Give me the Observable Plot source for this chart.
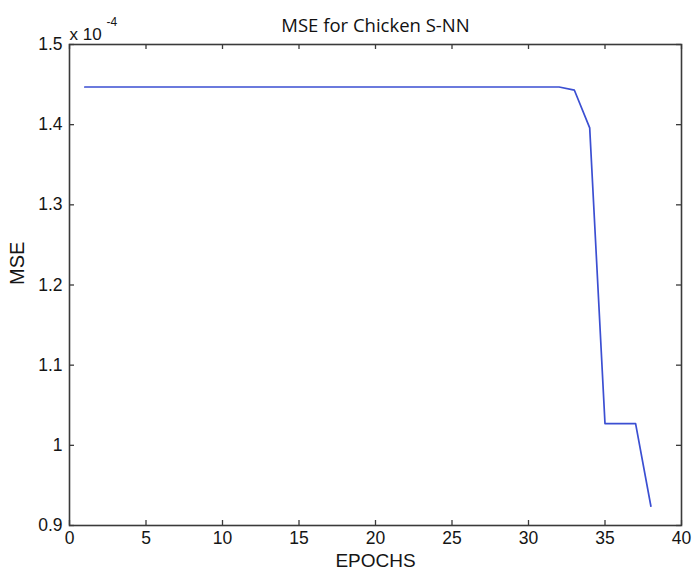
<!DOCTYPE html>
<html><head><meta charset="utf-8">
<script src="https://cdn.jsdelivr.net/npm/d3@7"></script>
<script src="https://cdn.jsdelivr.net/npm/@observablehq/plot@0.6"></script>
<style>body{margin:0;background:#fff;} svg{display:block;}</style>
</head><body><div id="chart"></div>
<script>
const epochs = [1,2,3,4,5,6,7,8,9,10,11,12,13,14,15,16,17,18,19,20,21,22,23,24,25,26,27,28,29,30,31,32,33,34,35,36,37,38];
const mse = [1.447,1.447,1.447,1.447,1.447,1.447,1.447,1.447,1.447,1.447,1.447,1.447,1.447,1.447,1.447,1.447,1.447,1.447,1.447,1.447,1.447,1.447,1.447,1.447,1.447,1.447,1.447,1.447,1.447,1.447,1.447,1.447,1.443,1.396,1.027,1.027,1.027,0.924];
const xTicks = [0,5,10,15,20,25,30,35,40];
const xTickLabels = ["0","5","10","15","20","25","30","35","40"];
const yTicks = [0.9,1.0,1.1,1.2,1.3,1.4,1.5];
const yTickLabels = ["0.9","1","1.1","1.2","1.3","1.4","1.5"];
const title = "MSE for Chicken S-NN";
const xLabel = "EPOCHS";
const yLabel = "MSE";
const expBase = "x 10";
const expPow = "-4";

const W = 692, H = 580, ML = 69, MR = 11, MT = 44, MB = 55, TICK = 5;
const innerW = W - ML - MR, innerH = H - MT - MB;

const data = epochs.map((e, i) => ({epoch: e, mse: mse[i]}));
const fx = d => xTickLabels[xTicks.indexOf(d)];
const fy = d => yTickLabels[yTicks.findIndex(t => Math.abs(t - d) < 1e-9)];
const font = "'Liberation Sans', Arial, sans-serif";
const ink = "#151515";
const axisInk = "#3a3a3a";

const chart = Plot.plot({
  width: W, height: H,
  marginLeft: ML, marginRight: MR, marginTop: MT, marginBottom: MB,
  style: {fontFamily: font, fontSize: "17px", color: ink, background: "#fff"},
  x: {domain: [0, 40]},
  y: {domain: [0.9, 1.5]},
  marks: [
    Plot.ruleX(xTicks, {x: d => d, insetTop: innerH - TICK, stroke: axisInk, strokeWidth: 1.3}),
    Plot.ruleX(xTicks, {x: d => d, insetBottom: innerH - TICK, stroke: axisInk, strokeWidth: 1.3}),
    Plot.ruleY(yTicks, {y: d => d, insetRight: innerW - TICK, stroke: axisInk, strokeWidth: 1.3}),
    Plot.ruleY(yTicks, {y: d => d, insetLeft: innerW - TICK, stroke: axisInk, strokeWidth: 1.3}),
    Plot.frame({stroke: axisInk, strokeWidth: 1.6}),
    Plot.axisX(xTicks, {anchor: "bottom", tickSize: 0, tickPadding: 6, tickFormat: fx, fontSize: 17.5, label: null, fill: ink}),
    Plot.axisY(yTicks, {anchor: "left", tickSize: 0, tickPadding: 7, tickFormat: fy, fontSize: 17.5, label: null, fill: ink}),
    Plot.line(data, {x: "epoch", y: "mse", stroke: "#3b4fd2", strokeWidth: 1.7}),
    Plot.text([title], {frameAnchor: "top", dy: -26, fontSize: 18.5, fontFamily: "'Open Sans', 'Noto Sans', sans-serif", fill: "#111"}),
    Plot.text([xLabel], {frameAnchor: "bottom", dy: 41, fontSize: 19, fill: ink}),
    Plot.text([yLabel], {frameAnchor: "left", dx: -52, rotate: -90, fontSize: 20, fill: ink}),
    Plot.text([expBase], {frameAnchor: "top-left", textAnchor: "start", dx: 0, dy: -17, fontSize: 17, fill: ink}),
    Plot.text([expPow], {frameAnchor: "top-left", textAnchor: "start", dx: 37, dy: -27, fontSize: 12, fill: ink})
  ]
});
document.getElementById("chart").append(chart);
</script>
</body></html>
